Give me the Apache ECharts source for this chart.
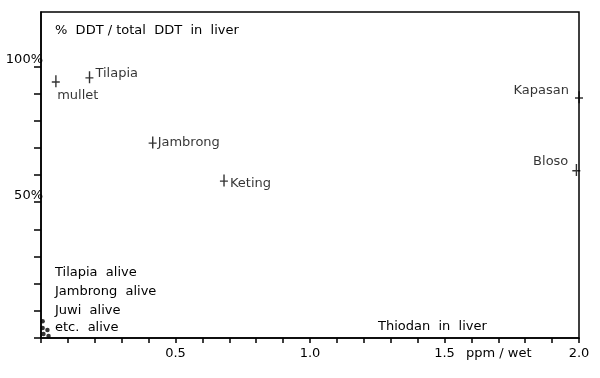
<!DOCTYPE html>
<html><head><meta charset="utf-8">
<script src="https://cdn.jsdelivr.net/npm/echarts@6/dist/echarts.min.js"></script>
<style>html,body{margin:0;padding:0;background:#fff}#c{width:600px;height:378px}</style>
</head><body><div id="c"></div>
<script>
// Data
const fishNames = ['mullet', 'Tilapia', 'Jambrong', 'Keting', 'Kapasan', 'Bloso'];
const thiodanPpm = [0.055, 0.18, 0.415, 0.68, 2.0, 1.99];
const ddtPercent = [94.5, 96, 72, 58, 88.6, 61.8];
const aliveThiodan = [0.006, 0.006, 0.024, 0.009, 0.028];
const aliveDdt = [6.2, 3.7, 2.9, 1.5, 0.7];
const aliveLabels = ['Tilapia  alive', 'Jambrong  alive', 'Juwi  alive', 'etc.  alive'];
const xTickLabels = {'0.5': '0.5', '1.0': '1.0', '1.5': '1.5', '2.0': '2.0'};
const yTickLabels = {'50': '50%', '100': '100%'};
const titleText = '%  DDT / total  DDT  in  liver';
const xTitleText = 'Thiodan  in  liver';
const xUnitText = 'ppm / wet';

const FONT = 'DejaVu Sans';
const FS = 13;
const INK = '#000';
const labelStyle = {
  mullet:   {position: 'bottom', offset: [22, -1]},
  Tilapia:  {position: 'right', offset: [-1, -4]},
  Jambrong: {position: 'right', offset: [-2, 0]},
  Keting:   {position: 'right', offset: [-1, 3]},
  Kapasan:  {position: 'left', offset: [-3, -7]},
  Bloso:    {position: 'left', offset: [-1, -8]}
};

const chart = echarts.init(document.getElementById('c'), null, {renderer: 'canvas'});
const fishData = fishNames.map((n, i) => ({
  value: [thiodanPpm[i], ddtPercent[i]],
  name: n,
  label: Object.assign({show: true, formatter: n, color: INK, fontFamily: FONT, fontSize: FS}, labelStyle[n])
}));
const aliveData = aliveThiodan.map((x, i) => [x, aliveDdt[i]]);

const yTicks = [];
for (let v = 0; v <= 100; v += 10) yTicks.push(v);

const txt = (text, left, top) => ({type: 'text', left, top, style: {text, font: FS + 'px ' + FONT, fill: INK}});

chart.setOption({
  animation: false,
  backgroundColor: '#fff',
  grid: {left: 41, right: 21, top: 12, bottom: 40, show: true, borderColor: INK, borderWidth: 1.5, backgroundColor: 'transparent'},
  xAxis: {
    type: 'value', min: 0, max: 2, interval: 0.1,
    splitLine: {show: false},
    axisLine: {show: true, lineStyle: {color: INK, width: 1.5}},
    axisTick: {show: true, length: 5, lineStyle: {color: INK, width: 1.5}},
    axisLabel: {
      color: INK, fontFamily: FONT, fontSize: FS, margin: 9,
      formatter: v => xTickLabels[v.toFixed(1)] || ''
    }
  },
  yAxis: {
    type: 'value', min: 0, max: 120, interval: 10,
    splitLine: {show: false},
    axisLine: {show: true, lineStyle: {color: INK, width: 1.5}},
    axisTick: {show: true, length: 7, customValues: yTicks, lineStyle: {color: INK, width: 1.5}},
    axisLabel: {
      color: INK, fontFamily: FONT, fontSize: FS, margin: -2,
      verticalAlign: 'bottom',
      customValues: [50, 100],
      formatter: v => yTickLabels[String(Math.round(v))] || ''
    }
  },
  series: [
    {
      type: 'scatter',
      data: fishData,
      symbol: 'path://M3.4,0h1.4v12h-1.4z M0,6h8v1.4h-8z',
      symbolSize: [8, 12],
      itemStyle: {color: INK},
      label: {color: INK, fontFamily: FONT, fontSize: FS, distance: 3}
    },
    {
      type: 'scatter',
      data: aliveData,
      symbol: 'circle',
      symbolSize: 4.5,
      itemStyle: {color: INK}
    }
  ],
  graphic: [
    txt(titleText, 55, 24),
    txt(aliveLabels[0], 55, 266),
    txt(aliveLabels[1], 55, 285),
    txt(aliveLabels[2], 55, 304),
    txt(aliveLabels[3], 55, 321),
    txt(xTitleText, 378, 320),
    txt(xUnitText, 466, 347)
  ]
});
</script></body></html>
